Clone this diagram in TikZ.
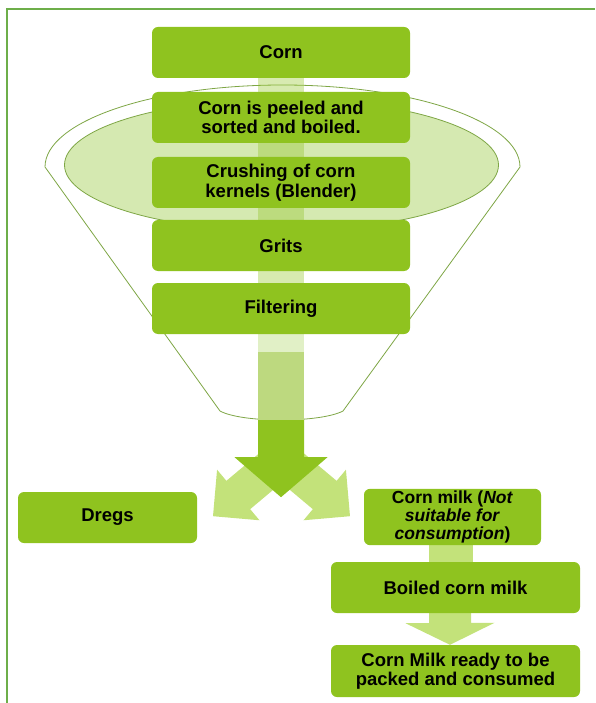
\documentclass[tikz,border=0pt]{standalone}
\usepackage{fontspec}
\setmainfont{Liberation Sans}
\usepackage{tikz}
\usetikzlibrary{calc,backgrounds}
\definecolor{leaf}{HTML}{8FC31F}
\definecolor{frame}{HTML}{6DAE4A}
\definecolor{rimline}{HTML}{7EA645}
\definecolor{bowl}{HTML}{D5E9B1}
\definecolor{sprout}{HTML}{C3E27A}
\definecolor{wash}{HTML}{E1F0C6}
\definecolor{haze}{HTML}{BDD97F}
\tikzset{
  box/.style={fill=leaf, rounded corners=6pt, minimum width=258pt, minimum height=51pt,
    inner sep=2pt, align=center, text=black, font=\fontsize{18.5}{19.5}\selectfont\bfseries},
  smallbox/.style={box, font=\fontsize{17.5}{18}\selectfont\bfseries},
  rim/.style={draw=rimline, line width=0.8pt, line join=round},
  edge/.style={draw=frame, line width=2pt},
  strip/.style={fill=leaf, fill opacity=0.35},
  side/.style={fill=sprout},
}

\begin{document}
\begin{tikzpicture}[x=1pt,y=-1pt]
  \useasboundingbox (0,0) rectangle (595,703);
  \draw[edge] (7,703) -- (7,9) -- (595,9);
  % steps inside the funnel
  \node[box] (corn)   at (281,52.5)  {Corn};
  \node[box] (peel)   at (281,117.5) {Corn is peeled and\\sorted and boiled.};
  \node[box] (crush)  at (281,182.5) {Crushing of corn\\kernels (Blender)};
  \node[box] (grits)  at (281,245.5) {Grits};
  \node[box] (filter) at (281,308.5) {Filtering};
  % what comes out
  \node[box,minimum width=179pt] (dregs) at (107.5,517.5) {Dregs};
  \node[smallbox,minimum width=177pt,minimum height=52pt] (milk) at (452.5,517)
    {Corn milk (\textit{Not}\\\textit{suitable for}\\\textit{consumption})};
  \node[box,minimum width=249pt] (boiled) at (455.5,587.5) {Boiled corn milk};
  \node[box,minimum width=249pt,minimum height=52pt] (ready) at (455.5,671)
    {Corn Milk ready to be\\packed and consumed};
  \path (filter.south) ++(0,18) coordinate (mid1) ++(0,68) coordinate (mid2) ++(0,77) coordinate (split);
  \begin{scope}[on background layer]
    \draw[rim,fill=white] (45,167) arc[start angle=180,end angle=360,x radius=237.5,y radius=82]
      -- (343,411) .. controls (320,423) and (242,423) .. (220,411) -- cycle;
    \draw[rim,fill=bowl] (281.5,165) ellipse [x radius=217,y radius=66];
    \fill[strip] ($(corn.south)+(-23,0)$) rectangle ($(filter.north)+(23,0)$);
    \fill[wash] ($(filter.south)+(-23,0)$) rectangle ($(mid1)+(23,0)$);
    \fill[haze] ($(mid1)+(-23,0)$) rectangle ($(mid2)+(23,0)$);
    \foreach \dx/\ang in {-68/220, 69/320}
      \fill[side,shift={($(split)+(\dx,19)$)},rotate=\ang]
        (0,0) -- (-33,33) -- (-33,18.5) -- (-95,18.5) -- (-95,-18.5) -- (-33,-18.5) -- (-33,-33) -- cycle;
    \fill[leaf] ($(mid2)+(-23,0)$) -- ($(split)+(-23,-40)$) -- ($(split)+(-46.5,-40)$) -- (split)
      -- ($(split)+(46.5,-40)$) -- ($(split)+(23,-40)$) -- ($(mid2)+(23,0)$) -- cycle;
    \fill[side] ($(milk.south)+(-24,0)$) rectangle ($(milk.south |- boiled.north)+(20,0)$);
    \fill[side] ($(boiled.south)+(-26.5,0)$) -- ++(0,10) -- ++(-23.5,0) -- ($(ready.north)+(-5.5,0)$)
      -- ++(44.5,-22) -- ++(-23.5,0) -- ++(0,-10) -- cycle;
  \end{scope}
\end{tikzpicture}
\end{document}
